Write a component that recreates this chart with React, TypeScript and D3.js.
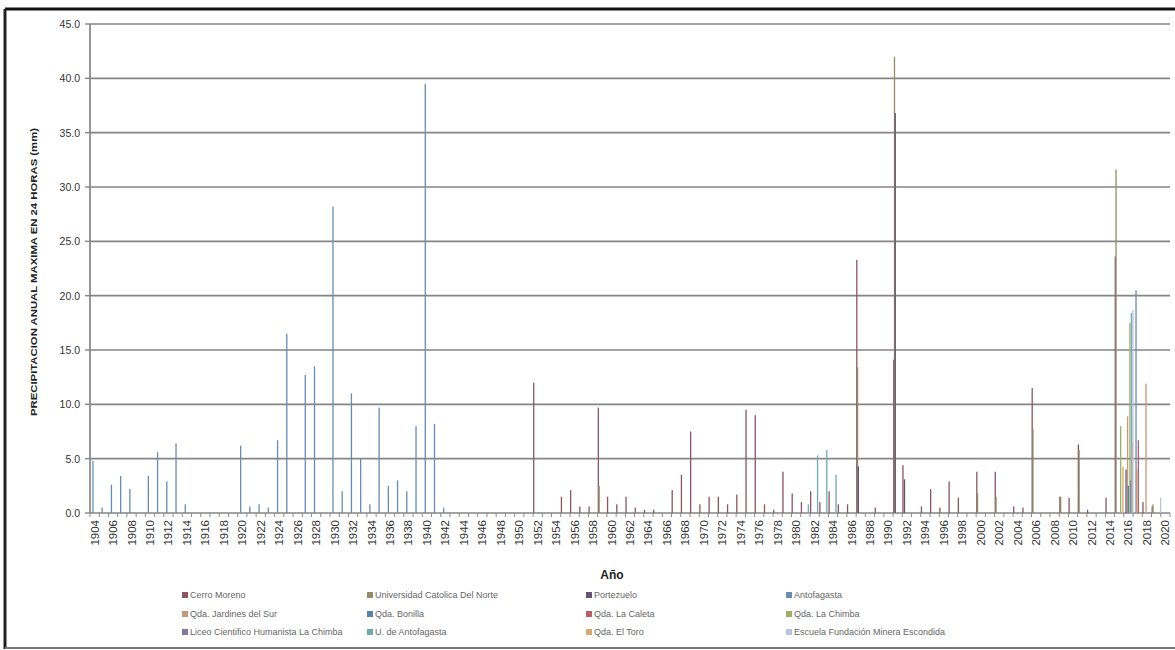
import React from "react";
import * as d3 from "d3";

// Categories (years) and tick labels
const years: number[] = d3.range(1904, 2021);
const xTickYears: number[] = years.filter((y) => (y - 1904) % 2 === 0);
const yTicks: number[] = [0, 5, 10, 15, 20, 25, 30, 35, 40, 45];

const seriesNames: string[] = [
  "Cerro Moreno",
  "Universidad Catolica Del Norte",
  "Portezuelo",
  "Antofagasta",
  "Qda. Jardines del Sur",
  "Qda. Bonilla",
  "Qda. La Caleta",
  "Qda. La Chimba",
  "Liceo Cientifico Humanista La Chimba",
  "U. de Antofagasta",
  "Qda. El Toro",
  "Escuela Fundación Minera Escondida",
];

const seriesColors: string[] = [
  "#8a5662",
  "#8f8d6c",
  "#605670",
  "#6a8cb0",
  "#c4987a",
  "#5a80a8",
  "#b95f68",
  "#a0ae6c",
  "#8478a0",
  "#6eaab2",
  "#d6a96c",
  "#b9c3da",
];

// [year, mm]
const cerroMoreno: [number, number][] = [
  [1952, 12.0], [1955, 1.5], [1956, 2.1], [1957, 0.6], [1958, 0.6], [1959, 9.7],
  [1960, 1.5], [1961, 0.8], [1962, 1.5], [1963, 0.5], [1964, 0.3], [1965, 0.3],
  [1967, 2.1], [1968, 3.5], [1969, 7.5], [1970, 0.8], [1971, 1.5], [1972, 1.5],
  [1973, 0.8], [1974, 1.7], [1975, 9.5], [1976, 9.0], [1977, 0.8], [1978, 0.3],
  [1979, 3.8], [1980, 1.8], [1981, 1.0], [1982, 2.0], [1983, 1.0], [1984, 2.0],
  [1985, 0.8], [1986, 0.8], [1987, 23.3], [1989, 0.5], [1991, 14.1], [1992, 4.4],
  [1994, 0.6], [1995, 2.2], [1996, 0.5], [1997, 2.9], [1998, 1.4], [2000, 3.8],
  [2002, 3.8], [2004, 0.6], [2005, 0.5], [2006, 11.5], [2009, 1.5], [2010, 1.4],
  [2011, 6.3], [2012, 0.3], [2014, 1.4], [2015, 23.6], [2018, 1.0], [2019, 0.6],
];
const ucn: [number, number][] = [
  [1959, 2.5], [1987, 13.4], [1991, 42.0], [2000, 1.8], [2002, 1.5], [2006, 7.7],
  [2009, 1.5], [2011, 5.8], [2015, 31.6], [2019, 0.8],
];
const portezuelo: [number, number][] = [
  [1987, 4.3], [1991, 36.8], [1992, 3.1], [2016, 4.0],
];
const antofagasta: [number, number][] = [
  [1904, 4.8], [1905, 0.5], [1906, 2.6], [1907, 3.4], [1908, 2.2], [1910, 3.4],
  [1911, 5.6], [1912, 2.9], [1913, 6.4], [1914, 0.8], [1920, 6.2], [1921, 0.6],
  [1922, 0.8], [1923, 0.5], [1924, 6.7], [1925, 16.5], [1927, 12.7], [1928, 13.5],
  [1930, 28.2], [1931, 2.0], [1932, 11.0], [1933, 5.0], [1934, 0.8], [1935, 9.7],
  [1936, 2.5], [1937, 3.0], [1938, 2.0], [1939, 8.0], [1940, 39.5], [1941, 8.2],
  [1942, 0.5], [2017, 20.5],
];
const jardinesDelSur: [number, number][] = [[2016, 8.9], [2017, 4.0], [2018, 11.9]];
const bonilla: [number, number][] = [[2016, 2.5]];
const laCaleta: [number, number][] = [[2017, 6.7]];
const laChimba: [number, number][] = [[2015, 8.0], [2016, 17.5]];
const liceo: [number, number][] = [[2016, 3.0]];
const uAntofagasta: [number, number][] = [
  [1981, 0.8], [1982, 5.3], [1983, 5.8], [1984, 3.5], [2016, 18.4],
];
const elToro: [number, number][] = [[2015, 4.3], [2016, 6.5]];
const escuela: [number, number][] = [[2016, 18.7], [2019, 1.4]];

const seriesData: [number, number][][] = [
  cerroMoreno, ucn, portezuelo, antofagasta, jardinesDelSur, bonilla,
  laCaleta, laChimba, liceo, uAntofagasta, elToro, escuela,
];

const W = 1175;
const H = 650;
const PL = 90;
const PR = 1170;
const PT = 24;
const PB = 513;
const FONT = "'Liberation Sans', Arial, sans-serif";

export default function App() {
  const x = d3.scaleBand<number>().domain(years).range([PL, PR]).padding(0);
  const xs = d3
    .scaleBand<number>()
    .domain(d3.range(seriesNames.length))
    .range([0, x.bandwidth()]);
  const y = d3.scaleLinear().domain([0, 45]).range([PB, PT]);
  const fmt = d3.format(".1f");
  const bw = Math.max(1.3, xs.bandwidth());

  const legendCols = [182, 367, 586, 786];
  const legendRows = [595, 614, 632];

  return (
    <svg
      width={W}
      height={H}
      style={{ position: "absolute", left: 0, top: 0, background: "#fff" }}
    >
      <rect x={0} y={0} width={W} height={H} fill="#fff" />
      {/* outer frame */}
      <line x1={5} y1={9} x2={W} y2={9} stroke="#111" strokeWidth={3} />
      <line x1={5} y1={9} x2={5} y2={649} stroke="#222" strokeWidth={3} />
      <line x1={5} y1={648} x2={W} y2={648} stroke="#777" strokeWidth={2} />

      {/* gridlines */}
      {yTicks.map((t) => (
        <g key={"g" + t}>
          <line x1={PL} x2={PR} y1={y(t)} y2={y(t)} stroke="#858585" strokeWidth={1.7} />
          <line x1={PL - 5} x2={PL} y1={y(t)} y2={y(t)} stroke="#858585" strokeWidth={1.4} />
          <text
            x={80}
            y={y(t)}
            textAnchor="end"
            dominantBaseline="central"
            fontFamily={FONT}
            fontSize={10.5}
            fill="#333"
          >
            {fmt(t)}
          </text>
        </g>
      ))}
      {/* y axis */}
      <line x1={PL} x2={PL} y1={PT} y2={PB} stroke="#858585" strokeWidth={1.7} />

      {/* bars */}
      {seriesData.map((data, k) => (
        <g key={"s" + k}>
          {data.map(([yr, v]) => (
            <rect
              key={yr}
              x={(x(yr) as number) + (xs(k) as number)}
              y={y(v)}
              width={bw}
              height={PB - y(v)}
              fill={seriesColors[k]}
            />
          ))}
        </g>
      ))}

      {/* x ticks */}
      {years.map((yr) => (
        <line
          key={"t" + yr}
          x1={x(yr) as number}
          x2={x(yr) as number}
          y1={PB}
          y2={PB + 4}
          stroke="#8c8c8c"
          strokeWidth={1}
        />
      ))}
      <line x1={PR} x2={PR} y1={PB} y2={PB + 4} stroke="#8c8c8c" strokeWidth={1} />

      {/* x tick labels */}
      {xTickYears.map((yr) => {
        const cx = (x(yr) as number) + x.bandwidth() / 2;
        return (
          <text
            key={"l" + yr}
            transform={`translate(${cx},${PB + 7}) rotate(-90)`}
            textAnchor="end"
            dominantBaseline="central"
            fontFamily={FONT}
            fontSize={11.5}
            fill="#333"
          >
            {yr}
          </text>
        );
      })}

      {/* axis titles */}
      <text
        x={612}
        y={579}
        textAnchor="middle"
        fontFamily={FONT}
        fontSize={12}
        fontWeight="bold"
        fill="#222"
      >
        Año
      </text>
      <text
        transform={`translate(33,272) rotate(-90)`}
        textAnchor="middle"
        dominantBaseline="central"
        fontFamily={FONT}
        fontSize={9.5}
        fontWeight="bold"
        fill="#222"
        textLength={288}
        lengthAdjust="spacingAndGlyphs"
      >
        PRECIPITACION ANUAL MAXIMA EN 24 HORAS (mm)
      </text>

      {/* legend */}
      {seriesNames.map((name, i) => {
        const cx = legendCols[i % 4];
        const cy = legendRows[Math.floor(i / 4)];
        return (
          <g key={"lg" + i}>
            <rect x={cx} y={cy - 3} width={6} height={6} fill={seriesColors[i]} />
            <text
              x={cx + 8}
              y={cy}
              dominantBaseline="central"
              fontFamily={FONT}
              fontSize={9}
              fill="#666"
            >
              {name}
            </text>
          </g>
        );
      })}
    </svg>
  );
}
